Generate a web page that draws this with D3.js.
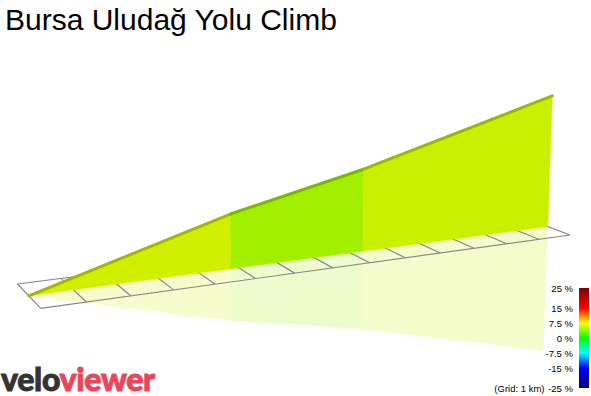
<!DOCTYPE html>
<html>
<head>
<meta charset="utf-8">
<script src="https://cdn.jsdelivr.net/npm/d3@7"></script>
<style>
  body { margin: 0; background: #fff; }
  svg { display: block; font-family: "Liberation Sans", Arial, sans-serif; }
</style>
</head>
<body>
<div id="chart"></div>
<script>
// route profile: distance along the climb (km) and elevation (m)
var distKm = [0, 4.8, 8.35, 14.0];
var elevM = [310, 623, 803, 1158];

// gradient colour legend
var gradeStops = [25, 15, 7.5, 0, -7.5, -15, -25];
var gradeLabels = ["25 %", "15 %", "7.5 %", "0 %", "-7.5 %", "-15 %", "-25 %"];

var titleText = "Bursa Uludağ Yolu Climb";

var svgWidth = 591;
var svgHeight = 396;
var totalKm = distKm[distKm.length - 1];

var svg = d3.select("#chart")
    .append("svg")
    .attr("width", svgWidth)
    .attr("height", svgHeight);

// floor of the 3d view on screen: back-left, back-right, front-right, front-left
var floorQuad = [[17.5, 284], [526.6, 218.4], [570, 235], [40.7, 308.3]];

// perspective mapping of the unit square onto the floor quad
function squareToQuad(q) {
    var x0 = q[0][0], y0 = q[0][1], x1 = q[1][0], y1 = q[1][1];
    var x2 = q[2][0], y2 = q[2][1], x3 = q[3][0], y3 = q[3][1];
    var dx1 = x1 - x2, dx2 = x3 - x2, dx3 = x0 - x1 + x2 - x3;
    var dy1 = y1 - y2, dy2 = y3 - y2, dy3 = y0 - y1 + y2 - y3;
    var det = dx1 * dy2 - dx2 * dy1;
    var g = (dx3 * dy2 - dx2 * dy3) / det;
    var h = (dx1 * dy3 - dx3 * dy1) / det;
    return {
        a: x1 - x0 + g * x1, b: x3 - x0 + h * x3, c: x0,
        d: y1 - y0 + g * y1, e: y3 - y0 + h * y3, f: y0,
        g: g, h: h
    };
}
var H = squareToQuad(floorQuad);

// scales: distance -> along floor, side -> across floor, elevation -> lift
var uScale = d3.scaleLinear().domain([0, totalKm]).range([0, 1]);
var vScale = d3.scaleLinear().domain([-1, 1]).range([0, 1]);
var minElev = d3.min(elevM), maxElev = d3.max(elevM);
var zScale = d3.scaleLinear().domain([minElev, maxElev]).range([0, (maxElev - minElev) * 0.1831]);

var lean = 0.00014;
function project(km, side, lift) {
    var u = uScale(km), v = vScale(side);
    var den = H.g * u + H.h * v + 1;
    var x = (H.a * u + H.b * v + H.c) / den;
    var y = (H.d * u + H.e * v + H.f) / den;
    var hp = lift / den;
    return [x + (x - 300) * lean * hp, y - hp];
}

// gradient colours (same as legend), walls slightly shaded
var gradeColor = d3.scaleLinear()
    .domain(gradeStops)
    .range(["#800000", "#ff0000", "#ffff00", "#00ff00", "#00ffff", "#0000ff", "#000080"]);

function shade(c) {
    var r = d3.rgb(c);
    return d3.rgb(r.r * 0.94, r.g * 0.94, r.b * 0.94).formatHex();
}

var segments = d3.range(distKm.length - 1).map(function (i) {
    var grade = (elevM[i + 1] - elevM[i]) / ((distKm[i + 1] - distKm[i]) * 1000) * 100;
    return { k0: distKm[i], k1: distKm[i + 1], e0: elevM[i], e1: elevM[i + 1], grade: grade };
});

var line = d3.line();
var poly = function (pts) { return line(pts) + "Z"; };

// reflection below the floor
svg.append("g")
    .selectAll("path")
    .data(segments)
    .enter()
    .append("path")
    .attr("d", function (s) {
        return poly([project(s.k0, 0, 0), project(s.k1, 0, 0),
            project(s.k1, 0, -0.95 * zScale(s.e1)), project(s.k0, 0, -0.95 * zScale(s.e0))]);
    })
    .attr("fill", function (s) { return shade(gradeColor(s.grade)); })
    .attr("fill-opacity", 0.2);

// floor grid, 1 km squares
var grid = svg.append("g")
    .attr("stroke", "#888")
    .attr("stroke-width", 1.2)
    .attr("fill", "none");

grid.selectAll("path.cross")
    .data(d3.range(0, totalKm + 0.001, 1))
    .enter()
    .append("path")
    .attr("class", "cross")
    .attr("d", function (k) { return line([project(k, -1, 0), project(k, 1, 0)]); });

grid.selectAll("path.edge")
    .data([-1, 1])
    .enter()
    .append("path")
    .attr("class", "edge")
    .attr("d", function (side) { return line([project(0, side, 0), project(totalKm, side, 0)]); });

// profile walls
var walls = svg.append("g");
walls.selectAll("path.wall")
    .data(segments)
    .enter()
    .append("path")
    .attr("class", "wall")
    .attr("d", function (s) {
        return poly([project(s.k0, 0, 0), project(s.k1, 0, 0),
            project(s.k1, 0, zScale(s.e1)), project(s.k0, 0, zScale(s.e0))]);
    })
    .attr("fill", function (s) { return shade(gradeColor(s.grade)); })
    .attr("stroke", function (s) { return shade(gradeColor(s.grade)); })
    .attr("stroke-width", 0.5);

// road surface along the top
walls.selectAll("path.top")
    .data(segments)
    .enter()
    .append("path")
    .attr("class", "top")
    .attr("d", function (s) {
        return line([project(s.k0, 0, zScale(s.e0)), project(s.k1, 0, zScale(s.e1))]);
    })
    .attr("fill", "none")
    .attr("stroke", function (s) { return d3.color(shade(gradeColor(s.grade))).darker(0.75); })
    .attr("stroke-width", 3)
    .attr("stroke-linecap", "round");

// title
svg.append("text")
    .attr("x", 5)
    .attr("y", 29.5)
    .attr("font-size", "30px")
    .attr("fill", "#000")
    .text(titleText);

// legend
var legendY = d3.scaleLinear().domain([25, -25]).range([288, 388]);

var grad = svg.append("defs")
    .append("linearGradient")
    .attr("id", "gradeGrad")
    .attr("x1", 0).attr("y1", 0).attr("x2", 0).attr("y2", 1);

grad.selectAll("stop")
    .data(gradeStops)
    .enter()
    .append("stop")
    .attr("offset", function (d) { return (legendY(d) - 288) / 100; })
    .attr("stop-color", function (d) { return gradeColor(d); });

svg.append("rect")
    .attr("x", 579)
    .attr("y", legendY(25))
    .attr("width", 10)
    .attr("height", legendY(-25) - legendY(25))
    .attr("fill", "url(#gradeGrad)");

svg.append("g")
    .selectAll("text")
    .data(gradeStops)
    .enter()
    .append("text")
    .attr("x", 573)
    .attr("y", function (d) { return legendY(d) + 3.5; })
    .attr("text-anchor", "end")
    .attr("font-size", "9.5px")
    .attr("fill", "#000")
    .text(function (d, i) { return gradeLabels[i]; });

svg.append("text")
    .attr("x", 544.5)
    .attr("y", legendY(-25) + 3.5)
    .attr("text-anchor", "end")
    .attr("font-size", "9.5px")
    .attr("fill", "#000")
    .text("(Grid: 1 km)");

// veloviewer logo
var logo = svg.append("text")
    .attr("x", 1)
    .attr("y", 390.5)
    .attr("font-family", "Lato, 'Open Sans', sans-serif")
    .attr("font-weight", 900)
    .attr("font-size", "32px")
    .attr("letter-spacing", "-0.3px")
    .attr("stroke-width", 0.9);
logo.append("tspan").attr("fill", "#333").attr("stroke", "#333").text("velo");
logo.append("tspan").attr("fill", "#ef4357").attr("stroke", "#ef4357").text("viewer");
</script>
</body>
</html>
